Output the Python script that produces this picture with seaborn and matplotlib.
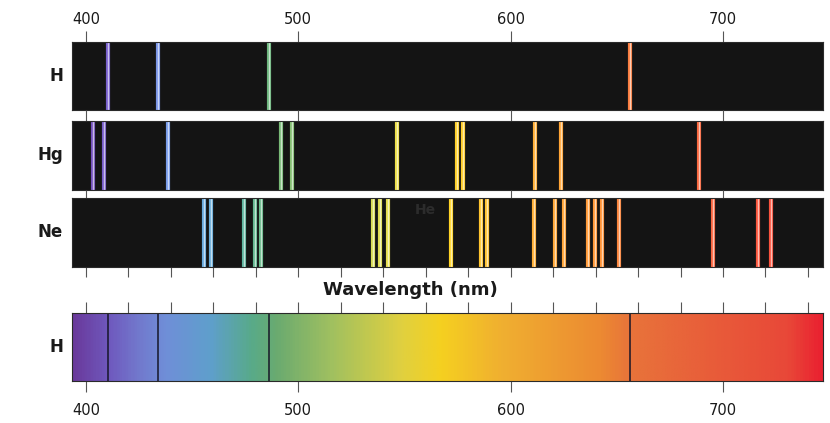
import numpy as np
import matplotlib
matplotlib.use("Agg")
import matplotlib.pyplot as plt
from matplotlib.colors import LinearSegmentedColormap
import seaborn as sns

# wavelengths (nm) of the emission lines
h_lines = [410.2, 434.0, 486.1, 656.3]
hg_lines = [403.4, 408.6, 438.5, 491.9, 497.2, 546.4, 574.6, 577.4, 611.5, 623.7, 688.9]
ne_lines = [455.6, 458.7, 474.6, 479.6, 482.3, 535.0, 538.5, 542.1, 571.8, 586.0, 589.0,
            611.2, 620.9, 625.3, 636.6, 639.5, 643.0, 651.2, 695.2, 716.7, 722.7]
panel_names = ["H", "Hg", "Ne", "H"]
major_ticks = [400, 500, 600, 700]
minor_ticks = list(range(400, 741, 20))

# colours of the continuous spectrum strip (wavelength, colour)
spec_nm = [393, 411, 423, 437, 458, 477, 489, 515, 548, 567, 595, 642, 656, 689, 731, 748]
spec_col = ["#6a3a9c", "#6f5bbf", "#7277cc", "#6f8fd8", "#5f9fcc", "#58aa8a", "#6aaa70",
            "#a0c060", "#e0d040", "#f5d020", "#f0b030", "#ec8a32", "#e8743a", "#e8603a",
            "#e84838", "#ea2030"]

XMIN, XMAX = 393.3, 747.1

sns.set_theme(style="white")
plt.rcParams["font.family"] = ["DejaVu Sans"]

cmap = LinearSegmentedColormap.from_list(
    "spec", [((n - XMIN) / (XMAX - XMIN), c) for n, c in
             zip(np.clip(spec_nm, XMIN, XMAX), spec_col)])


def line_colour(nm):
    c = np.array(cmap((nm - XMIN) / (XMAX - XMIN))[:3])
    hsv = matplotlib.colors.rgb_to_hsv(c)
    hsv[2] = min(1, hsv[2] * 1.08)
    return matplotlib.colors.hsv_to_rgb(hsv)


fig = plt.figure(figsize=(8.3, 4.23), dpi=100)
W, H = 830, 423
left, width = 71.7 / W, (823 - 71.7) / W


def make_panel(top_px, bot_px):
    ax = fig.add_axes([left, 1 - bot_px / H, width, (bot_px - top_px) / H])
    ax.set_xlim(XMIN, XMAX)
    ax.set_ylim(0, 1)
    ax.set_yticks([])
    ax.xaxis.remove_overlapping_locs = False
    for s in ax.spines.values():
        s.set_color("#2a2a2a")
        s.set_linewidth(0.8)
        s.set_visible(True)
    ax.tick_params(axis="x", which="both", direction="out", color="#555555", width=0.8,
                   bottom=False, top=False, labelbottom=False, labeltop=False)
    return ax


axes = []
for top_px, bot_px, lines in [(42, 110, h_lines), (121, 190, hg_lines), (198, 267, ne_lines)]:
    ax = make_panel(top_px, bot_px)
    ax.set_facecolor("#141414")
    cols = [line_colour(n) for n in lines]
    ax.vlines(lines, 0, 1, colors=cols, linewidth=3.0)
    cores = [0.4 * np.array(c) + 0.6 for c in cols]
    ax.vlines(lines, 0, 1, colors=cores, linewidth=1.0)
    ax.set_xticks(major_ticks)
    axes.append(ax)

# H: labelled ticks above
axes[0].tick_params(axis="x", which="major", top=True, labeltop=True, length=8,
                    labelsize=10.5, pad=3, labelcolor="#1a1a1a")
# Hg: ticks in the gap above
axes[1].tick_params(axis="x", which="major", top=True, length=8)
# Ne: ticks above, fine ticks below
axes[2].set_xticks(minor_ticks, minor=True)
axes[2].tick_params(axis="x", which="major", top=True, length=6)
axes[2].tick_params(axis="x", which="minor", bottom=True, length=7.5)
axes[2].text(560, 0.82, "He", color="#2c2c2c", fontsize=10, fontweight="bold",
             ha="center", va="center")

# continuous spectrum strip
axg = make_panel(313, 381)
grad = np.linspace(XMIN, XMAX, 600)[None, :]
axg.imshow((grad - XMIN) / (XMAX - XMIN), cmap=cmap, aspect="auto",
           extent=[XMIN, XMAX, 0, 1], vmin=0, vmax=1)
axg.set_xlim(XMIN, XMAX)
axg.vlines(h_lines, 0, 1, colors="#161628", linewidth=1.1)
axg.set_xticks(major_ticks)
axg.set_xticks(minor_ticks, minor=True)
axg.tick_params(axis="x", which="major", bottom=True, labelbottom=True, length=8,
                labelsize=10.5, pad=8, labelcolor="#1a1a1a")
axg.tick_params(axis="x", which="minor", top=True, length=8)

# row labels
for name, yc in zip(panel_names, [76, 155, 232, 347]):
    fig.text(63 / W, 1 - yc / H, name, ha="right", va="center", fontsize=12,
             fontweight="bold", color="#1a1a1a")

fig.text(410 / W, 1 - 290 / H, "Wavelength (nm)", ha="center", va="center",
         fontsize=13, fontweight="bold", color="#1a1a1a")

fig.savefig("out.png", dpi=100, facecolor="white")
